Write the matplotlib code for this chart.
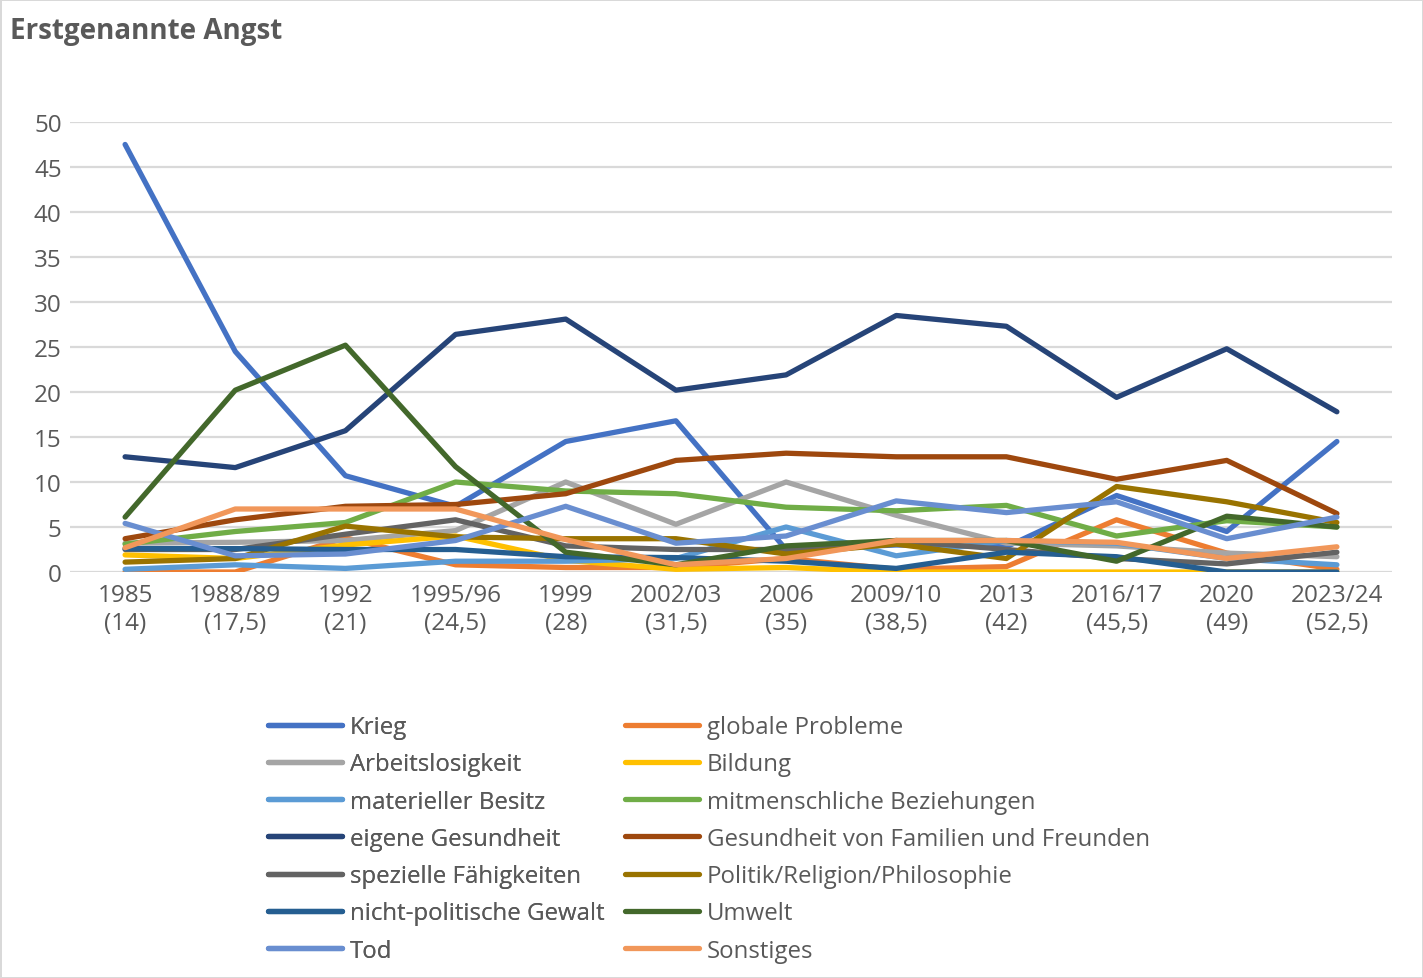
import matplotlib.pyplot as plt

# Kategorien (Jahr und Alter)
jahre = ['1985\n(14)', '1988/89\n(17,5)', '1992\n(21)', '1995/96\n(24,5)', '1999\n(28)',
         '2002/03\n(31,5)', '2006\n(35)', '2009/10\n(38,5)', '2013\n(42)',
         '2016/17\n(45,5)', '2020\n(49)', '2023/24\n(52,5)']

krieg = [47.5, 24.5, 10.7, 7.3, 14.5, 16.8, 2.5, 3.0, 2.8, 8.5, 4.5, 14.5]
globale_probleme = [0.0, 0.0, 3.8, 0.8, 0.5, 0.5, 1.5, 0.3, 0.6, 5.8, 2.1, 0.3]
arbeitslosigkeit = [3.2, 3.3, 3.5, 4.6, 10.0, 5.3, 10.0, 6.3, 3.2, 2.9, 2.1, 1.7]
bildung = [1.9, 1.5, 3.0, 4.0, 1.3, 0.3, 0.5, 0.0, 0.0, 0.0, 0.0, 0.0]
materieller_besitz = [0.3, 0.8, 0.4, 1.2, 1.2, 1.5, 5.0, 1.8, 3.5, 3.2, 1.5, 0.8]
mitmenschlich = [3.1, 4.5, 5.5, 10.0, 9.0, 8.7, 7.2, 6.8, 7.4, 4.0, 5.7, 5.0]
eigene_gesundheit = [12.8, 11.6, 15.7, 26.4, 28.1, 20.2, 21.9, 28.5, 27.3, 19.4, 24.8, 17.8]
gesundheit_familie = [3.7, 5.8, 7.3, 7.5, 8.7, 12.4, 13.2, 12.8, 12.8, 10.3, 12.4, 6.5]
spezielle_faehigkeiten = [2.5, 2.5, 4.2, 5.8, 2.9, 2.5, 2.5, 3.5, 2.5, 1.5, 0.9, 2.2]
politik = [1.1, 1.5, 5.1, 3.9, 3.7, 3.7, 2.0, 3.1, 1.5, 9.5, 7.8, 5.5]
gewalt = [2.6, 2.6, 2.5, 2.5, 1.7, 1.6, 1.2, 0.4, 2.2, 1.7, 0.0, 0.0]
umwelt = [6.1, 20.2, 25.2, 11.7, 2.2, 0.8, 2.9, 3.5, 3.5, 1.2, 6.2, 5.0]
tod = [5.4, 1.8, 2.0, 3.5, 7.3, 3.2, 4.0, 7.9, 6.6, 7.8, 3.7, 6.1]
sonstiges = [2.7, 7.0, 7.0, 7.0, 3.6, 0.8, 1.5, 3.5, 3.5, 3.3, 1.5, 2.8]

reihen = [
    ('Krieg', krieg, '#4472C4'),
    ('globale Probleme', globale_probleme, '#ED7D31'),
    ('Arbeitslosigkeit', arbeitslosigkeit, '#A5A5A5'),
    ('Bildung', bildung, '#FFC000'),
    ('materieller Besitz', materieller_besitz, '#5B9BD5'),
    ('mitmenschliche Beziehungen', mitmenschlich, '#70AD47'),
    ('eigene Gesundheit', eigene_gesundheit, '#264478'),
    ('Gesundheit von Familien und Freunden', gesundheit_familie, '#9E480E'),
    ('spezielle Fähigkeiten', spezielle_faehigkeiten, '#636363'),
    ('Politik/Religion/Philosophie', politik, '#997300'),
    ('nicht-politische Gewalt', gewalt, '#255E91'),
    ('Umwelt', umwelt, '#43682B'),
    ('Tod', tod, '#698ED0'),
    ('Sonstiges', sonstiges, '#F1975A'),
]

plt.rcParams['font.family'] = ['Open Sans', 'DejaVu Sans']
textfarbe = '#595959'

fig = plt.figure(figsize=(14.23, 9.79), dpi=100, facecolor='white',
                 edgecolor='#D9D9D9', linewidth=2)
ax = fig.add_axes([0.0492, 0.4147, 0.9290, 0.4597])

x = range(len(jahre))
linien = []
for name, werte, farbe in reihen:
    l, = ax.plot(x, werte, color=farbe, linewidth=3.8, label=name,
                 solid_capstyle='round', solid_joinstyle='round')
    linien.append(l)

ax.set_xlim(-0.5, len(jahre) - 0.5)
ax.set_ylim(0, 50)
ax.set_yticks(range(0, 51, 5))
ax.set_xticks(list(x))
ax.set_xticklabels(jahre, linespacing=1.2)
ax.grid(axis='y', color='#D9D9D9', linewidth=1.6)
ax.set_axisbelow(True)
for s in ax.spines.values():
    s.set_visible(False)
ax.tick_params(length=0, labelsize=17.5, colors=textfarbe)
ax.tick_params(axis='x', pad=8)
ax.tick_params(axis='y', pad=6)

fig.text(0.007, 0.983, 'Erstgenannte Angst', fontsize=20, fontweight='bold',
         color=textfarbe, ha='left', va='top')

# Legende zeilenweise wie in Excel: zwei Spalten als eigene Legenden
def spalte(idx, xpos):
    lg = fig.legend([linien[i] for i in idx], [reihen[i][0] for i in idx],
                    loc='upper left', bbox_to_anchor=(xpos, 0.2684),
                    frameon=False, fontsize=17.3, handlelength=3.1,
                    handletextpad=0.3, labelspacing=0.55, borderpad=0,
                    borderaxespad=0)
    for t in lg.get_texts():
        t.set_color(textfarbe)
    return lg

links = spalte(range(0, 14, 2), 268 / 1423)
fig.add_artist(links)
spalte(range(1, 14, 2), 625 / 1423)

fig.savefig('out.png', dpi=100, facecolor='white', edgecolor='#D9D9D9')
